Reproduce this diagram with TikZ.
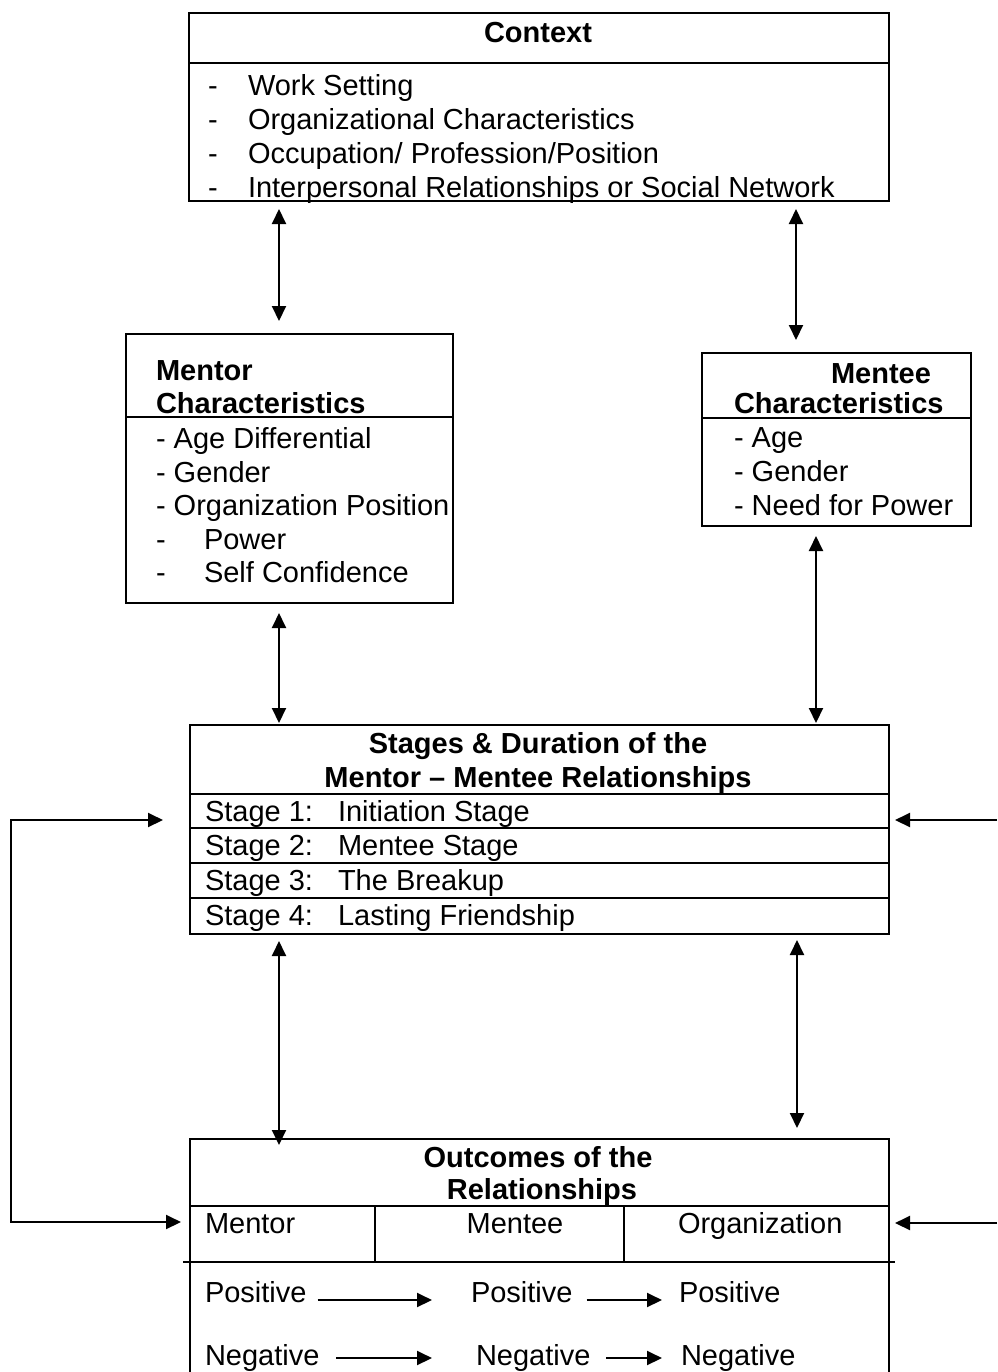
\documentclass[tikz,border=0pt]{standalone}
\usepackage{fontspec}
\setmainfont{Liberation Sans}
\usetikzlibrary{calc,arrows.meta}

\tikzset{every picture/.style={line width=1pt}}
\tikzset{
	box/.style={draw, rectangle, inner sep=0pt, anchor=north west},
	txt/.style={anchor=base west, inner sep=0pt},
	head/.style={anchor=base, inner sep=0pt, font=\fontsize{14.5}{17}\selectfont\bfseries},
	headw/.style={anchor=base west, inner sep=0pt, font=\fontsize{14.5}{17}\selectfont\bfseries},
}

\begin{document}
\begin{tikzpicture}[x=0.5pt,y=0.5pt,yscale=-1,xscale=1,
	every node/.append style={font=\fontsize{14.5}{17}\selectfont},
	>={Triangle[length=7.5pt,width=7pt]}]
	%set diagram left start at 0, and has height of 1372
	\path[use as bounding box] (0,0) rectangle (997,1372);

	%Shape: Rectangle [context]
	\node[box, minimum width=350pt, minimum height=94pt] (ctx) at (188,12) {};
	\draw ($(ctx.north west)+(0,51)$) -- ($(ctx.north east)+(0,51)$);
	%Shape: Rectangle [mentor]
	\node[box, minimum width=163.5pt, minimum height=134.5pt] (mtr) at (125,333) {};
	\draw ($(mtr.north west)+(0,84)$) -- ($(mtr.north east)+(0,84)$);
	%Shape: Rectangle [mentee]
	\node[box, minimum width=134.5pt, minimum height=86.5pt] (mte) at (701,352) {};
	\draw ($(mte.north west)+(0,66)$) -- ($(mte.north east)+(0,66)$);
	%Shape: Rectangle [stages]
	\node[box, minimum width=349.5pt, minimum height=104.5pt] (stg) at (189,724) {};
	\foreach \dy in {70,104,139,174}
		\draw ($(stg.north west)+(0,\dy)$) -- ($(stg.north east)+(0,\dy)$);
	%Shape: Rectangle [outcomes]
	\node[box, minimum width=349.5pt, minimum height=130pt] (out) at (189,1138) {};
	\draw ($(out.north west)+(0,68)$) -- ($(out.north east)+(0,68)$);
	\draw ($(out.north west)+(186,68)$) -- ++(0,56);
	\draw ($(out.north west)+(435,68)$) -- ++(0,56);
	\draw ($(out.north west)+(-6,124)$) -- ($(out.north east)+(5,124)$);

	% Text Node
	\node[head] (ctxT) at (538,42) {Context};
	\foreach \i/\t/\y in {1/Work Setting/95, 2/Organizational Characteristics/129,
		3/{Occupation/ Profession/Position}/163, 4/Interpersonal Relationships or Social Network/197} {
		\node[txt] (ctxD\i) at (207,\y) {-};
		\node[txt] (ctx\i) at (247,\y) {\t};
	}
	% Text Node
	\node[headw] (mtrT1) at (155,380) {Mentor};
	\node[headw] (mtrT2) at (155,413) {Characteristics};
	\node[txt] (mtr1) at (155,448) {- Age Differential};
	\node[txt] (mtr2) at (155,482) {- Gender};
	\node[txt] (mtr3) at (155,515) {- Organization Position};
	\node[txt] (mtrD4) at (155,549) {-};
	\node[txt] (mtr4) at (203,549) {Power};
	\node[txt] (mtrD5) at (155,582) {-};
	\node[txt] (mtr5) at (203,582) {Self Confidence};
	% Text Node
	\node[headw] (mteT1) at (830,383) {Mentee};
	\node[headw] (mteT2) at (733,413) {Characteristics};
	\node[txt] (mte1) at (733,447) {- Age};
	\node[txt] (mte2) at (733,481) {- Gender};
	\node[txt] (mte3) at (733,515) {- Need for Power};
	% Text Node
	\node[head] (stgT1) at (538,753) {Stages \& Duration of the};
	\node[head] (stgT2) at (538,787) {Mentor – Mentee Relationships};
	\foreach \i/\t/\y in {1/Initiation Stage/821, 2/Mentee Stage/855, 3/The Breakup/890, 4/Lasting Friendship/925} {
		\node[txt] (stgN\i) at (204,\y) {Stage \i:};
		\node[txt] (stg\i) at (337,\y) {\t};
	}
	% Text Node
	\node[head] (outT1) at (538,1167) {Outcomes of the};
	\node[head] (outT2) at (542,1199) {Relationships};
	\node[txt] (outC1) at (204,1233) {Mentor};
	\node[anchor=base, inner sep=0pt] (outC2) at (515,1233) {Mentee};
	\node[txt] (outC3) at (677,1233) {Organization};
	\node[txt] (pos1) at (204,1302) {Positive};
	\node[txt] (pos2) at (470,1302) {Positive};
	\node[txt] (pos3) at (678,1302) {Positive};
	\node[txt] (neg1) at (204,1365) {Negative};
	\node[txt] (neg2) at (475,1365) {Negative};
	\node[txt] (neg3) at (680,1365) {Negative};

	%Straight Lines [outcome chains]
	\draw[->] ($(pos1.base east)+(10,-2)$) -- ($(pos2.base west)+(-38,-2)$);
	\draw[->] ($(pos2.base east)+(13,-2)$) -- ($(pos3.base west)+(-16,-2)$);
	\draw[->] ($(neg1.base east)+(16,-7)$) -- ($(neg2.base west)+(-43,-7)$);
	\draw[->] ($(neg2.base east)+(15,-7)$) -- ($(neg3.base west)+(-18,-7)$);

	%Straight Lines [two-way links]
	\draw[<->] ($(ctx.south west)+(91,7)$) -- ($(mtr.north west)+(154,-12)$);
	\draw[<->] ($(ctx.south west)+(608,7)$) -- ($(mte.north west)+(95,-12)$);
	\draw[<->] ($(mtr.south west)+(154,9)$) -- ($(stg.north west)+(90,-1)$);
	\draw[<->] ($(mte.south west)+(115,9)$) -- ($(stg.north west)+(627,-1)$);
	\draw[<->] ($(stg.south west)+(90,6)$) -- ($(out.north west)+(90,7)$);
	\draw[<->] ($(stg.south west)+(608,5)$) -- ($(out.north west)+(608,-10)$);

	%Straight Lines [feedback]
	\coordinate (fbL) at (11,1222);
	\coordinate (fbR1) at (997,820);
	\coordinate (fbR2) at (997,1223);
	\draw[<->] ($(stg.north west)+(-26,96)$) -| (fbL) -- ($(out.north west)+(-8,84)$);
	\draw[->] (fbR1) -- ($(stg.north east)+(5,96)$);
	\draw[->] (fbR2) -- ($(out.north east)+(5,85)$);
\end{tikzpicture}
\end{document}
